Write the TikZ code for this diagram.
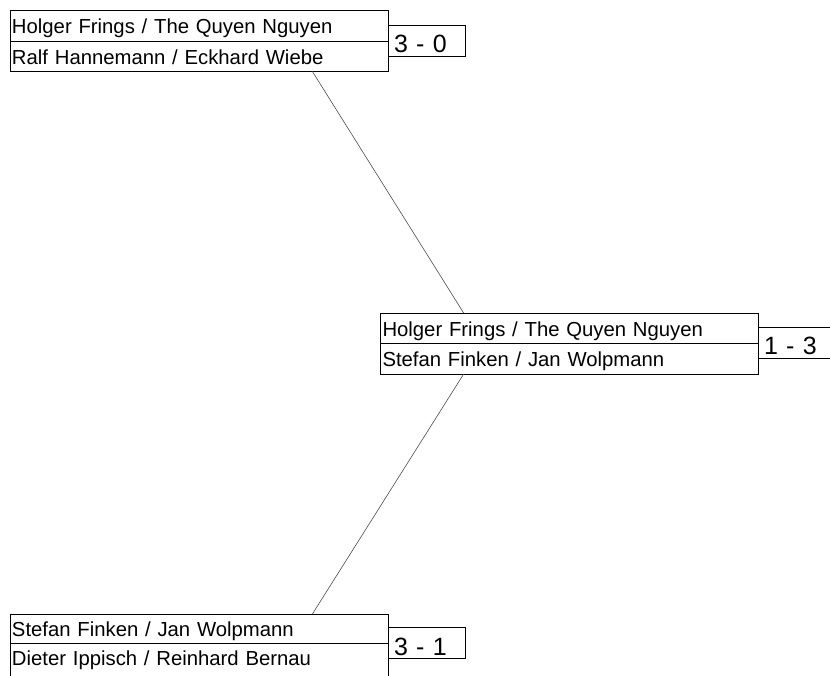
\documentclass[tikz,border=0pt]{standalone}
\usepackage{fontspec}
\setmainfont{Liberation Sans}
\usetikzlibrary{calc}
\newcommand{\myscorefont}{\fontsize{25}{29}\selectfont\spaceskip=12pt\relax}
\newcommand{\mynamefont}{\fontsize{20.3}{24}\selectfont}
\tikzset{
  boxline/.style={line width=0.8pt, draw=black},
  namerow/.style={boxline, draw, outer sep=0pt, anchor=north west, minimum width=378pt, text width=374pt,
    align=left, inner xsep=2pt, inner ysep=0pt, text height=23pt, text depth=7.5pt,
    font=\mynamefont},
  scorebox/.style={outer sep=0pt, anchor=north west, minimum width=77pt, text width=65pt, align=left,
    inner xsep=6pt, inner ysep=0pt, text height=27.7pt, text depth=3.3pt,
    font=\myscorefont},
  connector/.style={line width=0.6pt, draw=black!70},
}
\begin{document}
\begin{tikzpicture}[x=1pt,y=-1pt]
\useasboundingbox (0,0) rectangle (830,675);
% match 1 (top)
\node[namerow] (m1a) at (10,10.5) {Holger Frings / The Quyen Nguyen};
\node[namerow] (m1b) at (m1a.south west) {Ralf Hannemann / Eckhard Wiebe};
\node[scorebox] (s1) at (388,25) {3 - 0};
\draw[boxline] (s1.north west) -- (s1.north east) -- (s1.south east) -- (s1.south west);
% match 2 (middle)
\node[namerow] (m2a) at (380.5,313) {Holger Frings / The Quyen Nguyen};
\node[namerow] (m2b) at (m2a.south west) {Stefan Finken / Jan Wolpmann};
\node[scorebox] (s2) at (758,327) {1 - 3};
\draw[boxline] (s2.north west) -- (s2.north east) -- (s2.south east) -- (s2.south west);
% match 3 (bottom)
\node[namerow, text height=22.8pt, text depth=6.2pt] (m3a) at (10,614) {Stefan Finken / Jan Wolpmann};
\node[namerow, text height=22.5pt, text depth=15pt] (m3b) at (m3a.south west) {Dieter Ippisch / Reinhard Bernau};
\node[scorebox] (s3) at (388,627.5) {3 - 1};
\draw[boxline] (s3.north west) -- (s3.north east) -- (s3.south east) -- (s3.south west);
% connectors
\draw[connector] ($(m1b.south west)!0.8!(m1b.south east)$) -- ($(m2a.north west)!0.22!(m2a.north east)$);
\draw[connector] ($(m2b.south west)!0.22!(m2b.south east)$) -- ($(m3a.north west)!0.8!(m3a.north east)$);
\end{tikzpicture}
\end{document}
